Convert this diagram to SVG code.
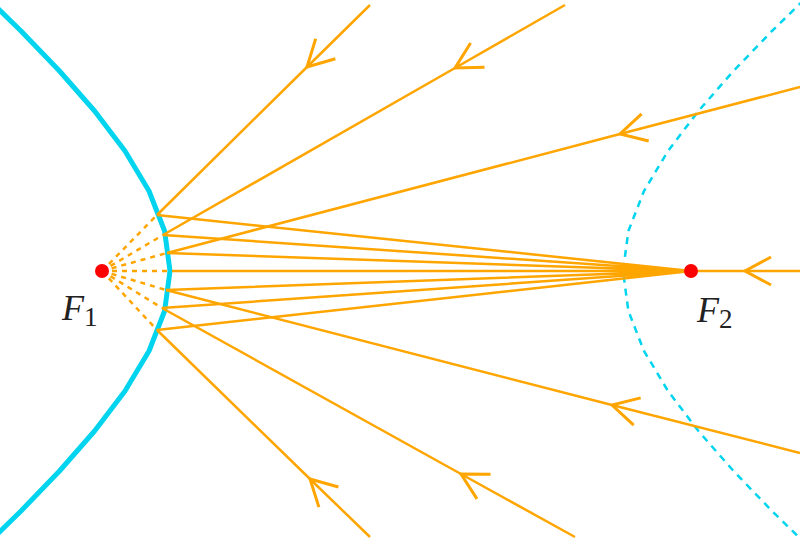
<svg xmlns="http://www.w3.org/2000/svg" width="800" height="547" viewBox="0 0 800 547">
<style>
.r{stroke:#FFA500;stroke-width:2.5;fill:none}
.d{stroke:#FFA500;stroke-width:2.5;fill:none;stroke-dasharray:5,5}
.lbl{font-family:"Liberation Serif",serif;font-size:36px;font-style:italic;fill:#222}
.sub{font-style:normal;font-size:27px}
</style>
<defs>
<marker id="ch" markerUnits="userSpaceOnUse" markerWidth="60" markerHeight="60" viewBox="-30 -30 60 60" refX="0" refY="0" orient="auto" overflow="visible">
<path d="M-26,-14 L0,0 L-26,14" stroke="#FFA500" stroke-width="3" fill="none"/>
</marker>
</defs>
<rect width="800" height="547" fill="#fff"/>
<g id="branch-left"><polyline points="-20,-9 21,31 59.5,71 94.6,111 125,151 149,191 164.6,231 170,271 164.6,311 149,351 125,391 94.6,431 59.5,471 21,511 -20,551" fill="none" stroke="#00D4EE" stroke-width="5" stroke-linejoin="round"/></g>
<g id="branch-right"><polyline points="813,-9 772,31 733.5,71 698.4,111 668,151 644,191 628.4,231 623,271 628.4,311 644,351 668,391 698.4,431 733.5,471 772,511 813,551" fill="none" stroke="#00D4EE" stroke-width="2.5" stroke-dasharray="7,6"/></g>
<g id="connectors">
<path class="d" d="M102,271L157,215M102,271L163,235M102,271L167,253M102,271L172,271M102,271L166,290M102,271L162,308M102,271L157,330"/>
<path class="r" d="M157,215L691,271M163,235L691,271M167,253L691,271M172,271L691,271M166,290L691,271M162,308L691,271M157,330L691,271"/>
<polyline class="r" marker-mid="url(#ch)" points="370,5 307,67 157,215"/>
<polyline class="r" marker-mid="url(#ch)" points="565,5 455,68 163,235"/>
<polyline class="r" marker-mid="url(#ch)" points="800,87 620,134 167,253"/>
<polyline class="r" marker-mid="url(#ch)" points="800,271 745,271 691,271"/>
<polyline class="r" marker-mid="url(#ch)" points="800,453 612,405 166,290"/>
<polyline class="r" marker-mid="url(#ch)" points="575,537 461,474 162,308"/>
<polyline class="r" marker-mid="url(#ch)" points="370,537 310,479 157,330"/>
</g>
<g id="F1"><circle cx="102" cy="271" r="7" fill="#F00"/><text class="lbl" x="62" y="320">F<tspan class="sub" dy="6">1</tspan></text></g>
<g id="F2"><circle cx="691" cy="271" r="7" fill="#F00"/><text class="lbl" x="697" y="322">F<tspan class="sub" dy="6">2</tspan></text></g>
</svg>
